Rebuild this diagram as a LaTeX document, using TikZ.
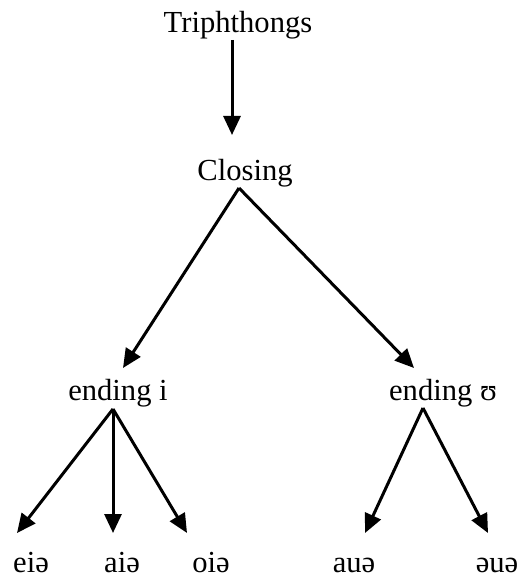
\documentclass[tikz,border=0pt]{standalone}
\usepackage{fontspec}
\setmainfont{Liberation Serif}
\usepackage{tikz}
\usetikzlibrary{arrows.meta}

\begin{document}
\begin{tikzpicture}[x=0.5pt,y=-0.5pt,inner sep=0pt,outer sep=0pt,
    every node/.style={font=\fontsize{15.3}{18}\selectfont, anchor=base},
    arr/.style={line width=1.5pt, -{Triangle[width=8.5pt,length=9.5pt]}}]
    \useasboundingbox (0,0) rectangle (523,576);
    % top of the tree
    \node (triph) at (238, 33) {Triphthongs};
    \node (closing) at (245, 181) {Closing};
    % second level
    \node (end_i) at (118, 400) {ending i};
    \node (end_u) at (443, 400) {ending ʊ};
    % leaves
    \node (eia) at (31, 572) {eiə};
    \node (aia) at (122, 572) {aiə};
    \node (oia) at (211, 572) {oiə};
    \node (aua) at (354, 572) {auə};
    \node (eua) at (497, 572) {əuə};

    % start and end points of the arrows
    \coordinate (triph_s) at (232, 40);
    \coordinate (closing_n) at (232, 135);
    \coordinate (closing_s) at (239, 188);
    \coordinate (end_i_n) at (123, 368);
    \coordinate (end_u_n) at (414, 368);
    \coordinate (end_i_s) at (113, 409);
    \coordinate (end_u_s) at (423, 408);
    \coordinate (eia_n) at (17, 533);
    \coordinate (aia_n) at (113, 533);
    \coordinate (oia_n) at (187, 533);
    \coordinate (aua_n) at (365, 533);
    \coordinate (eua_n) at (488, 533);

    \draw[arr] (triph_s) -- (closing_n);
    \draw[arr] (closing_s) -- (end_i_n);
    \draw[arr] (closing_s) -- (end_u_n);
    \draw[arr] (end_i_s) -- (eia_n);
    \draw[arr] (end_i_s) -- (aia_n);
    \draw[arr] (end_i_s) -- (oia_n);
    \draw[arr] (end_u_s) -- (aua_n);
    \draw[arr] (end_u_s) -- (eua_n);
\end{tikzpicture}
\end{document}
